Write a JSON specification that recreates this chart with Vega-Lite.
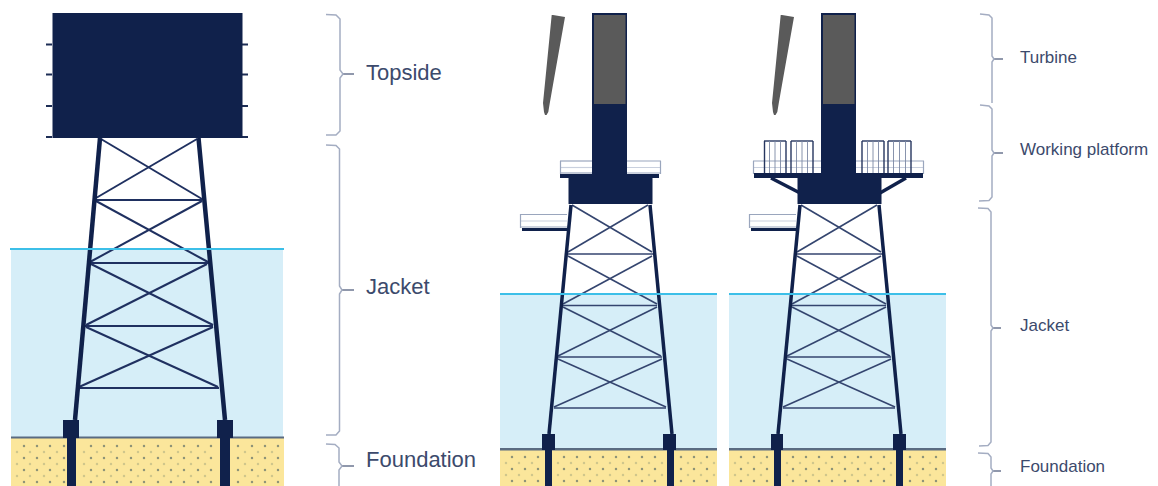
{"$schema":"https://vega.github.io/schema/vega-lite/v6.json","width":1158,"height":486,"padding":0,"autosize":{"type":"none"},"background":"white","config":{"view":{"stroke":null}},
"datasets":{
"ground":[
{"x":11,"x2":283,"y":249,"y2":437,"part":"water"},{"x":11,"x2":284,"y":438,"y2":486,"part":"sand"},{"x":11,"x2":284,"y":436.5,"y2":438.5,"part":"seabed"},
{"x":500,"x2":717,"y":294,"y2":449,"part":"water"},{"x":500,"x2":717,"y":450,"y2":486,"part":"sand"},{"x":500,"x2":717,"y":448,"y2":450.5,"part":"seabed"},
{"x":729,"x2":946,"y":294,"y2":449,"part":"water"},{"x":729,"x2":946,"y":450,"y2":486,"part":"sand"},{"x":729,"x2":946,"y":448,"y2":450.5,"part":"seabed"}],
"dots":[
{"x":24,"y":446,"part":"dotA"},{"x":37,"y":446,"part":"dotA"},{"x":50,"y":446,"part":"dotA"},{"x":64,"y":446,"part":"dotA"},{"x":91,"y":446,"part":"dotA"},{"x":104,"y":446,"part":"dotA"},{"x":117,"y":446,"part":"dotA"},{"x":131,"y":446,"part":"dotA"},{"x":144,"y":446,"part":"dotA"},{"x":158,"y":446,"part":"dotA"},{"x":171,"y":446,"part":"dotA"},{"x":184,"y":446,"part":"dotA"},{"x":198,"y":446,"part":"dotA"},{"x":211,"y":446,"part":"dotA"},{"x":238,"y":446,"part":"dotA"},{"x":252,"y":446,"part":"dotA"},{"x":265,"y":446,"part":"dotA"},{"x":278,"y":446,"part":"dotA"},
{"x":17,"y":452,"part":"dotB"},{"x":30,"y":452,"part":"dotB"},{"x":44,"y":452,"part":"dotB"},{"x":57,"y":452,"part":"dotB"},{"x":84,"y":452,"part":"dotB"},{"x":97,"y":452,"part":"dotB"},{"x":111,"y":452,"part":"dotB"},{"x":124,"y":452,"part":"dotB"},{"x":138,"y":452,"part":"dotB"},{"x":151,"y":452,"part":"dotB"},{"x":164,"y":452,"part":"dotB"},{"x":178,"y":452,"part":"dotB"},{"x":191,"y":452,"part":"dotB"},{"x":205,"y":452,"part":"dotB"},{"x":245,"y":452,"part":"dotB"},{"x":258,"y":452,"part":"dotB"},{"x":272,"y":452,"part":"dotB"},
{"x":24,"y":458,"part":"dotA"},{"x":37,"y":458,"part":"dotA"},{"x":50,"y":458,"part":"dotA"},{"x":64,"y":458,"part":"dotA"},{"x":91,"y":458,"part":"dotA"},{"x":104,"y":458,"part":"dotA"},{"x":117,"y":458,"part":"dotA"},{"x":131,"y":458,"part":"dotA"},{"x":144,"y":458,"part":"dotA"},{"x":158,"y":458,"part":"dotA"},{"x":171,"y":458,"part":"dotA"},{"x":184,"y":458,"part":"dotA"},{"x":198,"y":458,"part":"dotA"},{"x":211,"y":458,"part":"dotA"},{"x":238,"y":458,"part":"dotA"},{"x":252,"y":458,"part":"dotA"},{"x":265,"y":458,"part":"dotA"},{"x":278,"y":458,"part":"dotA"},
{"x":17,"y":464,"part":"dotB"},{"x":30,"y":464,"part":"dotB"},{"x":44,"y":464,"part":"dotB"},{"x":57,"y":464,"part":"dotB"},{"x":84,"y":464,"part":"dotB"},{"x":97,"y":464,"part":"dotB"},{"x":111,"y":464,"part":"dotB"},{"x":124,"y":464,"part":"dotB"},{"x":138,"y":464,"part":"dotB"},{"x":151,"y":464,"part":"dotB"},{"x":164,"y":464,"part":"dotB"},{"x":178,"y":464,"part":"dotB"},{"x":191,"y":464,"part":"dotB"},{"x":205,"y":464,"part":"dotB"},{"x":245,"y":464,"part":"dotB"},{"x":258,"y":464,"part":"dotB"},{"x":272,"y":464,"part":"dotB"},
{"x":24,"y":470,"part":"dotA"},{"x":37,"y":470,"part":"dotA"},{"x":50,"y":470,"part":"dotA"},{"x":64,"y":470,"part":"dotA"},{"x":91,"y":470,"part":"dotA"},{"x":104,"y":470,"part":"dotA"},{"x":117,"y":470,"part":"dotA"},{"x":131,"y":470,"part":"dotA"},{"x":144,"y":470,"part":"dotA"},{"x":158,"y":470,"part":"dotA"},{"x":171,"y":470,"part":"dotA"},{"x":184,"y":470,"part":"dotA"},{"x":198,"y":470,"part":"dotA"},{"x":211,"y":470,"part":"dotA"},{"x":238,"y":470,"part":"dotA"},{"x":252,"y":470,"part":"dotA"},{"x":265,"y":470,"part":"dotA"},{"x":278,"y":470,"part":"dotA"},
{"x":17,"y":476,"part":"dotB"},{"x":30,"y":476,"part":"dotB"},{"x":44,"y":476,"part":"dotB"},{"x":57,"y":476,"part":"dotB"},{"x":84,"y":476,"part":"dotB"},{"x":97,"y":476,"part":"dotB"},{"x":111,"y":476,"part":"dotB"},{"x":124,"y":476,"part":"dotB"},{"x":138,"y":476,"part":"dotB"},{"x":151,"y":476,"part":"dotB"},{"x":164,"y":476,"part":"dotB"},{"x":178,"y":476,"part":"dotB"},{"x":191,"y":476,"part":"dotB"},{"x":205,"y":476,"part":"dotB"},{"x":245,"y":476,"part":"dotB"},{"x":258,"y":476,"part":"dotB"},{"x":272,"y":476,"part":"dotB"},
{"x":24,"y":482,"part":"dotA"},{"x":37,"y":482,"part":"dotA"},{"x":50,"y":482,"part":"dotA"},{"x":64,"y":482,"part":"dotA"},{"x":91,"y":482,"part":"dotA"},{"x":104,"y":482,"part":"dotA"},{"x":117,"y":482,"part":"dotA"},{"x":131,"y":482,"part":"dotA"},{"x":144,"y":482,"part":"dotA"},{"x":158,"y":482,"part":"dotA"},{"x":171,"y":482,"part":"dotA"},{"x":184,"y":482,"part":"dotA"},{"x":198,"y":482,"part":"dotA"},{"x":211,"y":482,"part":"dotA"},{"x":238,"y":482,"part":"dotA"},{"x":252,"y":482,"part":"dotA"},{"x":265,"y":482,"part":"dotA"},{"x":278,"y":482,"part":"dotA"},
{"x":512,"y":457,"part":"dotA"},{"x":525,"y":457,"part":"dotA"},{"x":538,"y":457,"part":"dotA"},{"x":564,"y":457,"part":"dotA"},{"x":577,"y":457,"part":"dotA"},{"x":590,"y":457,"part":"dotA"},{"x":603,"y":457,"part":"dotA"},{"x":616,"y":457,"part":"dotA"},{"x":629,"y":457,"part":"dotA"},{"x":642,"y":457,"part":"dotA"},{"x":655,"y":457,"part":"dotA"},{"x":681,"y":457,"part":"dotA"},{"x":694,"y":457,"part":"dotA"},{"x":707,"y":457,"part":"dotA"},
{"x":506,"y":463,"part":"dotB"},{"x":519,"y":463,"part":"dotB"},{"x":532,"y":463,"part":"dotB"},{"x":558,"y":463,"part":"dotB"},{"x":571,"y":463,"part":"dotB"},{"x":584,"y":463,"part":"dotB"},{"x":597,"y":463,"part":"dotB"},{"x":610,"y":463,"part":"dotB"},{"x":623,"y":463,"part":"dotB"},{"x":636,"y":463,"part":"dotB"},{"x":649,"y":463,"part":"dotB"},{"x":662,"y":463,"part":"dotB"},{"x":688,"y":463,"part":"dotB"},{"x":701,"y":463,"part":"dotB"},{"x":714,"y":463,"part":"dotB"},
{"x":512,"y":469,"part":"dotA"},{"x":525,"y":469,"part":"dotA"},{"x":538,"y":469,"part":"dotA"},{"x":564,"y":469,"part":"dotA"},{"x":577,"y":469,"part":"dotA"},{"x":590,"y":469,"part":"dotA"},{"x":603,"y":469,"part":"dotA"},{"x":616,"y":469,"part":"dotA"},{"x":629,"y":469,"part":"dotA"},{"x":642,"y":469,"part":"dotA"},{"x":655,"y":469,"part":"dotA"},{"x":681,"y":469,"part":"dotA"},{"x":694,"y":469,"part":"dotA"},{"x":707,"y":469,"part":"dotA"},
{"x":506,"y":475,"part":"dotB"},{"x":519,"y":475,"part":"dotB"},{"x":532,"y":475,"part":"dotB"},{"x":558,"y":475,"part":"dotB"},{"x":571,"y":475,"part":"dotB"},{"x":584,"y":475,"part":"dotB"},{"x":597,"y":475,"part":"dotB"},{"x":610,"y":475,"part":"dotB"},{"x":623,"y":475,"part":"dotB"},{"x":636,"y":475,"part":"dotB"},{"x":649,"y":475,"part":"dotB"},{"x":662,"y":475,"part":"dotB"},{"x":688,"y":475,"part":"dotB"},{"x":701,"y":475,"part":"dotB"},{"x":714,"y":475,"part":"dotB"},
{"x":512,"y":481,"part":"dotA"},{"x":525,"y":481,"part":"dotA"},{"x":538,"y":481,"part":"dotA"},{"x":564,"y":481,"part":"dotA"},{"x":577,"y":481,"part":"dotA"},{"x":590,"y":481,"part":"dotA"},{"x":603,"y":481,"part":"dotA"},{"x":616,"y":481,"part":"dotA"},{"x":629,"y":481,"part":"dotA"},{"x":642,"y":481,"part":"dotA"},{"x":655,"y":481,"part":"dotA"},{"x":681,"y":481,"part":"dotA"},{"x":694,"y":481,"part":"dotA"},{"x":707,"y":481,"part":"dotA"},
{"x":741,"y":457,"part":"dotA"},{"x":754,"y":457,"part":"dotA"},{"x":767,"y":457,"part":"dotA"},{"x":793,"y":457,"part":"dotA"},{"x":806,"y":457,"part":"dotA"},{"x":819,"y":457,"part":"dotA"},{"x":832,"y":457,"part":"dotA"},{"x":845,"y":457,"part":"dotA"},{"x":858,"y":457,"part":"dotA"},{"x":871,"y":457,"part":"dotA"},{"x":884,"y":457,"part":"dotA"},{"x":910,"y":457,"part":"dotA"},{"x":923,"y":457,"part":"dotA"},{"x":936,"y":457,"part":"dotA"},
{"x":735,"y":463,"part":"dotB"},{"x":748,"y":463,"part":"dotB"},{"x":761,"y":463,"part":"dotB"},{"x":787,"y":463,"part":"dotB"},{"x":800,"y":463,"part":"dotB"},{"x":813,"y":463,"part":"dotB"},{"x":826,"y":463,"part":"dotB"},{"x":839,"y":463,"part":"dotB"},{"x":852,"y":463,"part":"dotB"},{"x":865,"y":463,"part":"dotB"},{"x":878,"y":463,"part":"dotB"},{"x":891,"y":463,"part":"dotB"},{"x":917,"y":463,"part":"dotB"},{"x":930,"y":463,"part":"dotB"},{"x":943,"y":463,"part":"dotB"},
{"x":741,"y":469,"part":"dotA"},{"x":754,"y":469,"part":"dotA"},{"x":767,"y":469,"part":"dotA"},{"x":793,"y":469,"part":"dotA"},{"x":806,"y":469,"part":"dotA"},{"x":819,"y":469,"part":"dotA"},{"x":832,"y":469,"part":"dotA"},{"x":845,"y":469,"part":"dotA"},{"x":858,"y":469,"part":"dotA"},{"x":871,"y":469,"part":"dotA"},{"x":884,"y":469,"part":"dotA"},{"x":910,"y":469,"part":"dotA"},{"x":923,"y":469,"part":"dotA"},{"x":936,"y":469,"part":"dotA"},
{"x":735,"y":475,"part":"dotB"},{"x":748,"y":475,"part":"dotB"},{"x":761,"y":475,"part":"dotB"},{"x":787,"y":475,"part":"dotB"},{"x":800,"y":475,"part":"dotB"},{"x":813,"y":475,"part":"dotB"},{"x":826,"y":475,"part":"dotB"},{"x":839,"y":475,"part":"dotB"},{"x":852,"y":475,"part":"dotB"},{"x":865,"y":475,"part":"dotB"},{"x":878,"y":475,"part":"dotB"},{"x":891,"y":475,"part":"dotB"},{"x":917,"y":475,"part":"dotB"},{"x":930,"y":475,"part":"dotB"},{"x":943,"y":475,"part":"dotB"},
{"x":741,"y":481,"part":"dotA"},{"x":754,"y":481,"part":"dotA"},{"x":767,"y":481,"part":"dotA"},{"x":793,"y":481,"part":"dotA"},{"x":806,"y":481,"part":"dotA"},{"x":819,"y":481,"part":"dotA"},{"x":832,"y":481,"part":"dotA"},{"x":845,"y":481,"part":"dotA"},{"x":858,"y":481,"part":"dotA"},{"x":871,"y":481,"part":"dotA"},{"x":884,"y":481,"part":"dotA"},{"x":910,"y":481,"part":"dotA"},{"x":923,"y":481,"part":"dotA"},{"x":936,"y":481,"part":"dotA"}],
"members":[
{"x":46,"x2":52,"y":44.5,"y2":44.5,"part":"stub"},{"x":46,"x2":52,"y":74.5,"y2":74.5,"part":"stub"},{"x":46,"x2":52,"y":106,"y2":106,"part":"stub"},{"x":46,"x2":52,"y":137,"y2":137,"part":"stub"},
{"x":242,"x2":248,"y":44.5,"y2":44.5,"part":"stub"},{"x":242,"x2":248,"y":74.5,"y2":74.5,"part":"stub"},{"x":242,"x2":248,"y":106,"y2":106,"part":"stub"},{"x":242,"x2":248,"y":137,"y2":137,"part":"stub"},
{"x":95,"x2":202,"y":200,"y2":200,"part":"memberL"},{"x":90,"x2":208,"y":263,"y2":263,"part":"memberL"},{"x":85,"x2":213,"y":326,"y2":326,"part":"memberL"},{"x":79,"x2":219,"y":388,"y2":388,"part":"memberL"},
{"x":101,"x2":202,"y":139,"y2":199,"part":"memberL"},{"x":197,"x2":96,"y":139,"y2":198,"part":"memberL"},{"x":96,"x2":208,"y":201,"y2":262,"part":"memberL"},{"x":202,"x2":90,"y":201,"y2":262,"part":"memberL"},{"x":91,"x2":213,"y":264,"y2":325,"part":"memberL"},{"x":207,"x2":86,"y":264,"y2":325,"part":"memberL"},{"x":86,"x2":218,"y":327,"y2":387,"part":"memberL"},{"x":213,"x2":79,"y":327,"y2":387,"part":"memberL"},
{"x":100,"x2":75,"y":138,"y2":420,"part":"legL"},{"x":198.5,"x2":225,"y":138,"y2":420,"part":"legL"},
{"x":10,"x2":284,"y":249,"y2":249,"part":"surface"},
{"x":567,"x2":654,"y":254,"y2":254,"part":"member"},{"x":562,"x2":657,"y":305.5,"y2":305.5,"part":"member"},{"x":557,"x2":662,"y":357,"y2":357,"part":"member"},{"x":554,"x2":666,"y":408,"y2":408,"part":"member"},
{"x":572,"x2":652,"y":205,"y2":252,"part":"member"},{"x":648,"x2":568,"y":205,"y2":252,"part":"member"},{"x":568,"x2":657,"y":256,"y2":304,"part":"member"},{"x":652,"x2":563,"y":256,"y2":304,"part":"member"},{"x":563,"x2":661,"y":307,"y2":356,"part":"member"},{"x":657,"x2":558,"y":307,"y2":356,"part":"member"},{"x":558,"x2":666,"y":359,"y2":407,"part":"member"},{"x":662,"x2":554,"y":359,"y2":407,"part":"member"},
{"x":571,"x2":549,"y":205,"y2":434,"part":"leg"},{"x":650,"x2":672,"y":205,"y2":434,"part":"leg"},
{"x":500,"x2":717,"y":294,"y2":294,"part":"surface"},
{"x":560,"x2":592,"y":161,"y2":161,"part":"rail"},{"x":560,"x2":592,"y":167.5,"y2":167.5,"part":"railPale"},{"x":560,"x2":592,"y":173,"y2":173,"part":"rail"},{"x":627,"x2":661,"y":161,"y2":161,"part":"rail"},{"x":627,"x2":661,"y":167.5,"y2":167.5,"part":"railPale"},{"x":627,"x2":661,"y":173,"y2":173,"part":"rail"},{"x":560.5,"x2":560.5,"y":161,"y2":174,"part":"rail"},{"x":660.5,"x2":660.5,"y":161,"y2":174,"part":"rail"},
{"x":520,"x2":567,"y":214.5,"y2":214.5,"part":"rail"},{"x":520,"x2":567,"y":221,"y2":221,"part":"railPale"},{"x":520,"x2":567,"y":227,"y2":227,"part":"rail"},{"x":520.5,"x2":520.5,"y":214,"y2":228,"part":"rail"},
{"x":796,"x2":883,"y":254,"y2":254,"part":"member"},{"x":791,"x2":886,"y":305.5,"y2":305.5,"part":"member"},{"x":786,"x2":891,"y":357,"y2":357,"part":"member"},{"x":783,"x2":895,"y":408,"y2":408,"part":"member"},
{"x":801,"x2":881,"y":205,"y2":252,"part":"member"},{"x":877,"x2":797,"y":205,"y2":252,"part":"member"},{"x":797,"x2":886,"y":256,"y2":304,"part":"member"},{"x":881,"x2":792,"y":256,"y2":304,"part":"member"},{"x":792,"x2":890,"y":307,"y2":356,"part":"member"},{"x":886,"x2":787,"y":307,"y2":356,"part":"member"},{"x":787,"x2":895,"y":359,"y2":407,"part":"member"},{"x":891,"x2":783,"y":359,"y2":407,"part":"member"},
{"x":800,"x2":778,"y":205,"y2":434,"part":"leg"},{"x":879,"x2":901,"y":205,"y2":434,"part":"leg"},
{"x":729,"x2":946,"y":294,"y2":294,"part":"surface"},
{"x":753,"x2":821,"y":161,"y2":161,"part":"rail"},{"x":753,"x2":821,"y":167.5,"y2":167.5,"part":"railPale"},{"x":855,"x2":924,"y":161,"y2":161,"part":"rail"},{"x":855,"x2":924,"y":167.5,"y2":167.5,"part":"railPale"},{"x":753.5,"x2":753.5,"y":161,"y2":174,"part":"rail"},{"x":923.5,"x2":923.5,"y":161,"y2":174,"part":"rail"},
{"x":749,"x2":796,"y":214.5,"y2":214.5,"part":"rail"},{"x":749,"x2":796,"y":221,"y2":221,"part":"railPale"},{"x":749,"x2":796,"y":227,"y2":227,"part":"rail"},{"x":749.5,"x2":749.5,"y":214,"y2":228,"part":"rail"},
{"x":771,"x2":800,"y":178,"y2":193,"part":"strut"},{"x":906,"x2":880,"y":178,"y2":193,"part":"strut"},
{"x":764,"x2":786,"y":141,"y2":141,"part":"locker"},{"x":764.5,"x2":764.5,"y":141,"y2":173,"part":"locker"},{"x":786,"x2":786,"y":141,"y2":173,"part":"locker"},{"x":769.5,"x2":769.5,"y":141,"y2":173,"part":"lockerIn"},{"x":775,"x2":775,"y":141,"y2":173,"part":"lockerIn"},{"x":780.5,"x2":780.5,"y":141,"y2":173,"part":"lockerIn"},
{"x":791,"x2":813,"y":141,"y2":141,"part":"locker"},{"x":791,"x2":791,"y":141,"y2":173,"part":"locker"},{"x":813,"x2":813,"y":141,"y2":173,"part":"locker"},{"x":796.5,"x2":796.5,"y":141,"y2":173,"part":"lockerIn"},{"x":802,"x2":802,"y":141,"y2":173,"part":"lockerIn"},{"x":807.5,"x2":807.5,"y":141,"y2":173,"part":"lockerIn"},
{"x":862,"x2":884,"y":141,"y2":141,"part":"locker"},{"x":862,"x2":862,"y":141,"y2":173,"part":"locker"},{"x":884,"x2":884,"y":141,"y2":173,"part":"locker"},{"x":867.5,"x2":867.5,"y":141,"y2":173,"part":"lockerIn"},{"x":873,"x2":873,"y":141,"y2":173,"part":"lockerIn"},{"x":878.5,"x2":878.5,"y":141,"y2":173,"part":"lockerIn"},
{"x":888,"x2":911,"y":141,"y2":141,"part":"locker"},{"x":888,"x2":888,"y":141,"y2":173,"part":"locker"},{"x":911,"x2":911,"y":141,"y2":173,"part":"locker"},{"x":893.5,"x2":893.5,"y":141,"y2":173,"part":"lockerIn"},{"x":899.5,"x2":899.5,"y":141,"y2":173,"part":"lockerIn"},{"x":905.5,"x2":905.5,"y":141,"y2":173,"part":"lockerIn"},
{"x":343,"x2":354,"y":74,"y2":74,"part":"tick"},{"x":342,"x2":354,"y":290,"y2":290,"part":"tick"},{"x":342,"x2":354,"y":466,"y2":466,"part":"tick"},
{"x":993,"x2":1003,"y":59,"y2":59,"part":"tick"},{"x":993,"x2":1003,"y":153,"y2":153,"part":"tick"},{"x":992,"x2":1001,"y":328,"y2":328,"part":"tick"},{"x":992,"x2":1001,"y":471,"y2":471,"part":"tick"}],
"solids":[
{"x":52.5,"x2":242.5,"y":13,"y2":138,"part":"navy"},
{"x":63,"x2":79,"y":420,"y2":438,"part":"navy"},{"x":67,"x2":76,"y":438,"y2":486,"part":"navy"},{"x":217,"x2":233,"y":420,"y2":438,"part":"navy"},{"x":220,"x2":230,"y":438,"y2":486,"part":"navy"},
{"x":592,"x2":627,"y":13,"y2":180,"part":"navy"},{"x":594,"x2":625.5,"y":15,"y2":104,"part":"grey"},{"x":560,"x2":659,"y":174,"y2":178,"part":"navy"},{"x":568.5,"x2":652.5,"y":178,"y2":204,"part":"navy"},{"x":522,"x2":567,"y":228,"y2":231,"part":"navy"},
{"x":542,"x2":555,"y":434,"y2":450,"part":"navy"},{"x":545,"x2":552,"y":450,"y2":486,"part":"navy"},{"x":663,"x2":676,"y":434,"y2":450,"part":"navy"},{"x":667,"x2":674,"y":450,"y2":486,"part":"navy"},
{"x":821,"x2":856,"y":13,"y2":180,"part":"navy"},{"x":823,"x2":854.5,"y":15,"y2":104,"part":"grey"},{"x":754,"x2":923,"y":173,"y2":178,"part":"navy"},{"x":797.5,"x2":881.5,"y":178,"y2":204,"part":"navy"},{"x":751,"x2":796,"y":228,"y2":231,"part":"navy"},
{"x":771,"x2":783,"y":434,"y2":450,"part":"navy"},{"x":774,"x2":781,"y":450,"y2":486,"part":"navy"},{"x":893,"x2":906,"y":434,"y2":450,"part":"navy"},{"x":896,"x2":903,"y":450,"y2":486,"part":"navy"}],
"blades":[
{"id":"b1","y":15,"x":551.7,"x2":553,"part":"grey"},{"id":"b1","y":17,"x":551.5,"x2":565,"part":"grey"},{"id":"b1","y":83,"x":545,"x2":553.3,"part":"grey"},{"id":"b1","y":103,"x":543,"x2":549.8,"part":"grey"},{"id":"b1","y":112,"x":544,"x2":548.3,"part":"grey"},{"id":"b1","y":115,"x":545,"x2":546.5,"part":"grey"},
{"id":"b2","y":15,"x":780.7,"x2":782,"part":"grey"},{"id":"b2","y":17,"x":780.5,"x2":794,"part":"grey"},{"id":"b2","y":83,"x":774,"x2":782.3,"part":"grey"},{"id":"b2","y":103,"x":772,"x2":778.8,"part":"grey"},{"id":"b2","y":112,"x":773,"x2":777.3,"part":"grey"},{"id":"b2","y":115,"x":774,"x2":775.5,"part":"grey"}],
"braces":[
{"id":"a","i":1,"x":326,"y":14.5,"part":"brace"},{"id":"a","i":2,"x":336,"y":15,"part":"brace"},{"id":"a","i":3,"x":340,"y":19,"part":"brace"},{"id":"a","i":4,"x":340,"y":70,"part":"brace"},{"id":"a","i":5,"x":343,"y":74,"part":"brace"},{"id":"a","i":6,"x":340,"y":78,"part":"brace"},{"id":"a","i":7,"x":340,"y":131,"part":"brace"},{"id":"a","i":8,"x":336,"y":135,"part":"brace"},{"id":"a","i":9,"x":326,"y":135,"part":"brace"},
{"id":"b","i":1,"x":326,"y":145,"part":"brace"},{"id":"b","i":2,"x":336,"y":145.5,"part":"brace"},{"id":"b","i":3,"x":339.5,"y":149,"part":"brace"},{"id":"b","i":4,"x":339.5,"y":286,"part":"brace"},{"id":"b","i":5,"x":342,"y":290,"part":"brace"},{"id":"b","i":6,"x":339.5,"y":294,"part":"brace"},{"id":"b","i":7,"x":339.5,"y":431,"part":"brace"},{"id":"b","i":8,"x":336,"y":435,"part":"brace"},{"id":"b","i":9,"x":326,"y":435,"part":"brace"},
{"id":"c","i":1,"x":326,"y":444,"part":"brace"},{"id":"c","i":2,"x":335,"y":444.5,"part":"brace"},{"id":"c","i":3,"x":339,"y":448,"part":"brace"},{"id":"c","i":4,"x":339,"y":462,"part":"brace"},{"id":"c","i":5,"x":342,"y":466,"part":"brace"},{"id":"c","i":6,"x":339,"y":470,"part":"brace"},{"id":"c","i":7,"x":339,"y":486,"part":"brace"},
{"id":"d","i":1,"x":980,"y":14,"part":"brace"},{"id":"d","i":2,"x":989,"y":15,"part":"brace"},{"id":"d","i":3,"x":992,"y":18,"part":"brace"},{"id":"d","i":4,"x":992,"y":56,"part":"brace"},{"id":"d","i":5,"x":994,"y":59,"part":"brace"},{"id":"d","i":6,"x":992,"y":62,"part":"brace"},{"id":"d","i":7,"x":992,"y":103,"part":"brace"},
{"id":"e","i":1,"x":980,"y":105,"part":"brace"},{"id":"e","i":2,"x":989,"y":106,"part":"brace"},{"id":"e","i":3,"x":992,"y":109,"part":"brace"},{"id":"e","i":4,"x":992,"y":150,"part":"brace"},{"id":"e","i":5,"x":994,"y":153,"part":"brace"},{"id":"e","i":6,"x":992,"y":156,"part":"brace"},{"id":"e","i":7,"x":992,"y":197,"part":"brace"},{"id":"e","i":8,"x":989,"y":200.5,"part":"brace"},{"id":"e","i":9,"x":979,"y":201,"part":"brace"},
{"id":"f","i":1,"x":978,"y":208,"part":"brace"},{"id":"f","i":2,"x":988,"y":208.5,"part":"brace"},{"id":"f","i":3,"x":991,"y":212,"part":"brace"},{"id":"f","i":4,"x":991,"y":325,"part":"brace"},{"id":"f","i":5,"x":993,"y":328,"part":"brace"},{"id":"f","i":6,"x":991,"y":331,"part":"brace"},{"id":"f","i":7,"x":991,"y":442,"part":"brace"},{"id":"f","i":8,"x":988,"y":445.5,"part":"brace"},{"id":"f","i":9,"x":979,"y":446,"part":"brace"},
{"id":"g","i":1,"x":978,"y":453,"part":"brace"},{"id":"g","i":2,"x":988,"y":453.5,"part":"brace"},{"id":"g","i":3,"x":991,"y":457,"part":"brace"},{"id":"g","i":4,"x":991,"y":468,"part":"brace"},{"id":"g","i":5,"x":993,"y":471,"part":"brace"},{"id":"g","i":6,"x":991,"y":474,"part":"brace"},{"id":"g","i":7,"x":991,"y":486,"part":"brace"}],
"labels":[
{"x":366,"y":73,"label":"Topside","part":"labelL"},{"x":366,"y":287,"label":"Jacket","part":"labelL"},{"x":366,"y":460,"label":"Foundation","part":"labelL"},
{"x":1020,"y":58,"label":"Turbine","part":"labelS"},{"x":1020,"y":150,"label":"Working platform","part":"labelS"},{"x":1020,"y":326,"label":"Jacket","part":"labelS"},{"x":1020,"y":467,"label":"Foundation","part":"labelS"}]
},
"encoding":{
"x":{"field":"x","type":"quantitative","axis":null,"scale":{"domain":[0,1158],"nice":false,"zero":false}},
"y":{"field":"y","type":"quantitative","axis":null,"scale":{"domain":[486,0],"nice":false,"zero":false}},
"color":{"field":"part","type":"nominal","legend":null,"scale":{"domain":["water","sand","seabed","dotA","dotB","navy","grey","stub","memberL","member","legL","leg","surface","rail","railPale","strut","locker","lockerIn","tick","brace","labelL","labelS"],"range":["#d6eef8","#fbe69b","#5a6b82","#8f9478","#cfc68c","#10214b","#5a5a5a","#1d2d55","#1f3060","#34456f","#10214b","#10214b","#3cbfe8","#9aa6bd","#c9d0de","#10214b","#26365f","#7c88a4","#6b7690","#a4adc2","#3c4a6c","#3c4a6c"]}}
},
"layer":[
{"data":{"name":"ground"},"mark":{"type":"rect"},"encoding":{"x2":{"field":"x2"},"y2":{"field":"y2"}}},
{"data":{"name":"dots"},"mark":{"type":"circle","size":6,"opacity":1}},
{"data":{"name":"members"},"mark":{"type":"rule"},"encoding":{"x2":{"field":"x2"},"y2":{"field":"y2"},"strokeWidth":{"field":"part","type":"nominal","legend":null,"scale":{"type":"ordinal","domain":["stub","memberL","member","legL","leg","surface","rail","railPale","strut","locker","lockerIn","tick"],"range":[2,2,1.6,4.5,3.5,2,1.2,1.2,3.5,1.4,0.9,1.5]}}}},
{"data":{"name":"solids"},"mark":{"type":"rect"},"encoding":{"x2":{"field":"x2"},"y2":{"field":"y2"}}},
{"data":{"name":"blades"},"mark":{"type":"area","orient":"horizontal"},"encoding":{"x2":{"field":"x2"},"detail":{"field":"id"}}},
{"data":{"name":"braces"},"mark":{"type":"line","strokeWidth":1.5},"encoding":{"detail":{"field":"id"},"order":{"field":"i"}}},
{"data":{"name":"labels"},"mark":{"type":"text","align":"left","baseline":"middle","font":"Liberation Sans"},"encoding":{"text":{"field":"label"},"size":{"field":"part","type":"nominal","legend":null,"scale":{"type":"ordinal","domain":["labelL","labelS"],"range":[22,17]}}}}
]}
